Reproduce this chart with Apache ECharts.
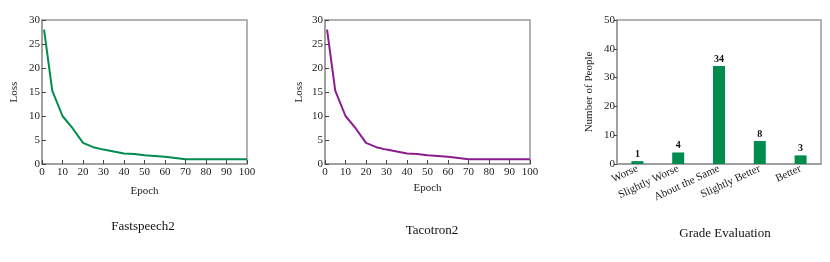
<!DOCTYPE html>
<html><head><meta charset="utf-8">
<script src="https://cdn.jsdelivr.net/npm/echarts@6/dist/echarts.min.js"></script>
<style>html,body{margin:0;padding:0;background:#fff}#c{width:830px;height:262px}</style>
</head><body><div id="c"></div>
<script>
const epochs = [1, 5, 10, 15, 20, 25, 30, 35, 40, 45, 50, 60, 70, 80, 90, 100];
const fastspeechLoss = [28, 15.3, 10, 7.4, 4.4, 3.5, 3.0, 2.6, 2.2, 2.1, 1.8, 1.5, 1.0, 1.0, 1.0, 1.0];
const tacotronLoss = [28, 15.3, 10, 7.4, 4.4, 3.5, 3.0, 2.6, 2.2, 2.1, 1.8, 1.5, 1.0, 1.0, 1.0, 1.0];
const grades = ['Worse', 'Slightly Worse', 'About the Same', 'Slightly Better', 'Better'];
const people = [1, 4, 34, 8, 3];
const titles = ['Fastspeech2', 'Tacotron2', 'Grade Evaluation'];

const FONT = '"Liberation Serif", "DejaVu Serif", serif';
const GREEN = '#008c4e';
const PURPLE = '#8b1c8e';
const FRAME = '#9a9a9a';

function pair(a, b) { return a.map((v, i) => [v, b[i]]); }

const grids = [
  {left: 42, top: 20, width: 205, height: 144},
  {left: 325, top: 20, width: 205, height: 144},
  {left: 617, top: 20, width: 204, height: 144}
];
grids.forEach(g => { g.show = true; g.borderColor = FRAME; g.borderWidth = 1.5; g.backgroundColor = 'transparent'; });

const axisText = {color: '#222', fontFamily: FONT, fontSize: 11};
function valX(gi) {
  return {type: 'value', gridIndex: gi, min: 0, max: 100, interval: 10,
    name: 'Epoch', nameLocation: 'middle', nameGap: 22,
    nameTextStyle: {color: '#222', fontFamily: FONT, fontSize: 11},
    axisLine: {show: true, lineStyle: {color: FRAME, width: 1.5}},
    axisTick: {show: true, inside: true, length: 4, lineStyle: {color: '#444'}},
    axisLabel: Object.assign({margin: 3}, axisText),
    splitLine: {show: false}};
}
function valY(gi, nameGap) {
  return {type: 'value', gridIndex: gi, min: 0, max: 30, interval: 5,
    name: 'Loss', nameLocation: 'middle', nameGap: nameGap,
    nameTextStyle: {color: '#222', fontFamily: FONT, fontSize: 11},
    axisLine: {show: true, lineStyle: {color: FRAME, width: 1.5}},
    axisTick: {show: true, inside: true, length: 4, lineStyle: {color: '#444'}},
    axisLabel: Object.assign({margin: 2}, axisText),
    splitLine: {show: false}};
}

const option = {
  animation: false,
  backgroundColor: '#fff',
  title: [
    {text: titles[0], left: 138, top: 215, textAlign: 'center', textStyle: {fontFamily: FONT, fontSize: 13, fontWeight: 'normal', color: '#111'}},
    {text: titles[1], left: 427, top: 219, textAlign: 'center', textStyle: {fontFamily: FONT, fontSize: 13, fontWeight: 'normal', color: '#111'}},
    {text: titles[2], left: 720, top: 222, textAlign: 'center', textStyle: {fontFamily: FONT, fontSize: 13, fontWeight: 'normal', color: '#111'}}
  ],
  grid: grids,
  xAxis: [
    valX(0),
    Object.assign(valX(1), {nameGap: 18}),
    {type: 'category', gridIndex: 2, data: grades,
      axisLine: {show: true, lineStyle: {color: FRAME, width: 1.5}},
      axisTick: {show: false},
      axisLabel: Object.assign({rotate: 25, margin: 4, interval: 0}, axisText)}
  ],
  yAxis: [
    valY(0, 22),
    valY(1, 20),
    {type: 'value', gridIndex: 2, min: 0, max: 50, interval: 10,
      name: 'Number of People', nameLocation: 'middle', nameGap: 22,
      nameTextStyle: {color: '#222', fontFamily: FONT, fontSize: 11},
      axisLine: {show: true, lineStyle: {color: FRAME, width: 1.5}},
      axisTick: {show: true, inside: false, length: 3, lineStyle: {color: '#444'}},
      axisLabel: Object.assign({margin: 2}, axisText),
      splitLine: {show: false}}
  ],
  series: [
    {type: 'line', xAxisIndex: 0, yAxisIndex: 0, data: pair(epochs, fastspeechLoss),
      showSymbol: false, lineStyle: {color: GREEN, width: 2}, itemStyle: {color: GREEN}},
    {type: 'line', xAxisIndex: 1, yAxisIndex: 1, data: pair(epochs, tacotronLoss),
      showSymbol: false, lineStyle: {color: PURPLE, width: 2}, itemStyle: {color: PURPLE}},
    {type: 'bar', xAxisIndex: 2, yAxisIndex: 2, data: people, barWidth: 12,
      itemStyle: {color: GREEN},
      label: {show: true, position: 'top', distance: 2, fontFamily: FONT, fontSize: 10, fontWeight: 'bold', color: '#111'}}
  ]
};
echarts.init(document.getElementById('c'), null, {renderer: 'canvas'}).setOption(option);
</script></body></html>
